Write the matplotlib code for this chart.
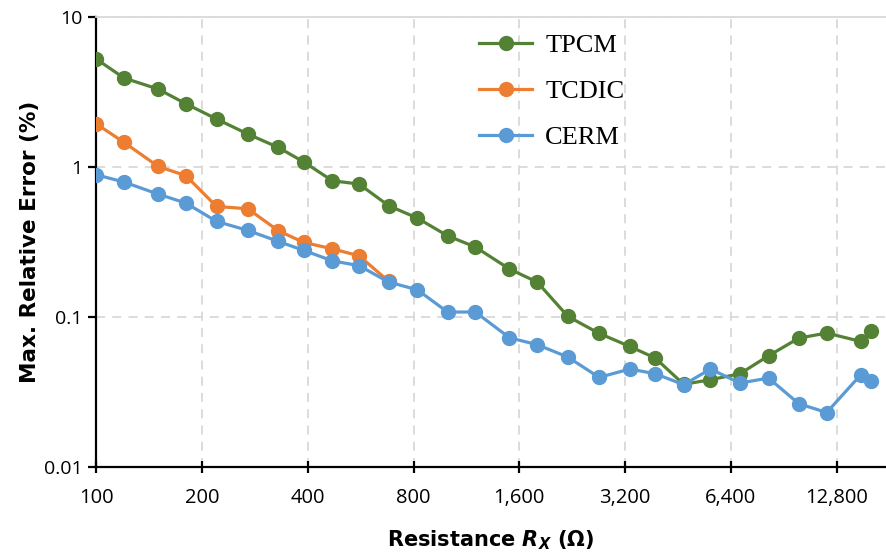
import numpy as np
import matplotlib
matplotlib.use("Agg")
import matplotlib.pyplot as plt
from matplotlib.ticker import FixedLocator, NullLocator, FixedFormatter

# resistances (E12 series) in ohm
resistance = [100, 120, 150, 180, 220, 270, 330, 390, 470, 560, 680, 820,
              1000, 1200, 1500, 1800, 2200, 2700, 3300, 3900, 4700, 5600, 6800, 8200,
              10000, 12000, 15000, 16000]

# max relative error (%)
tpcm = [5.25, 3.92, 3.31, 2.64, 2.09, 1.66, 1.35, 1.08, 0.81, 0.77, 0.552, 0.457,
        0.348, 0.293, 0.209, 0.171, 0.101, 0.0778, 0.0637, 0.0533, 0.0356, 0.0382, 0.0419, 0.0552,
        0.0724, 0.0782, 0.0688, 0.0802]
tcdic = [1.94, 1.46, 1.01, 0.875, 0.546, 0.527, 0.376, 0.314, 0.285, 0.256, 0.173]
cerm = [0.888, 0.794, 0.66, 0.575, 0.434, 0.378, 0.319, 0.278, 0.237, 0.22, 0.171, 0.152,
        0.108, 0.108, 0.0728, 0.0654, 0.0541, 0.0396, 0.045, 0.0419, 0.0354, 0.045, 0.0363, 0.0392,
        0.0264, 0.0231, 0.0412, 0.0372]

x_ticks = [100, 200, 400, 800, 1600, 3200, 6400, 12800]
x_tick_labels = ["100", "200", "400", "800", "1,600", "3,200", "6,400", "12,800"]
y_ticks = [0.01, 0.1, 1, 10]
y_tick_labels = ["0.01", "0.1", "1", "10"]

series = [
    ("TPCM", tpcm, "#548235"),
    ("TCDIC", tcdic, "#ED7D31"),
    ("CERM", cerm, "#5B9BD5"),
]

fig = plt.figure(figsize=(8.86, 5.58), dpi=100)
ax = fig.add_axes([0.1086, 0.163, 0.8914, 0.8065])

for name, vals, col in series:
    ax.plot(resistance[:len(vals)], vals, "-o", color=col, lw=2.3, ms=10,
            label=name, zorder=3)

ax.set_xscale("log", base=2)
ax.set_yscale("log")
ax.set_xlim(100, 17700)
ax.set_ylim(0.01, 10)

ax.xaxis.set_major_locator(FixedLocator(x_ticks))
ax.xaxis.set_major_formatter(FixedFormatter(x_tick_labels))
ax.xaxis.set_minor_locator(NullLocator())
ax.yaxis.set_major_locator(FixedLocator(y_ticks))
ax.yaxis.set_major_formatter(FixedFormatter(y_tick_labels))
ax.yaxis.set_minor_locator(NullLocator())

# dashed light grid like Excel
ax.grid(True, which="major", ls=(0, (5, 4)), color="#d9d9d9", lw=1.3, zorder=0)
ax.set_axisbelow(True)

ax.spines["right"].set_visible(False)
ax.spines["top"].set_color("#d9d9d9")
ax.spines["top"].set_linewidth(1.3)
ax.spines["left"].set_linewidth(1.6)
ax.spines["bottom"].set_linewidth(1.6)

ax.tick_params(axis="x", direction="inout", length=8, width=1.6,
               labelsize=14.5, pad=11)
ax.tick_params(axis="y", direction="out", length=6, width=1.6,
               labelsize=14, pad=4)
for lab in ax.get_xticklabels() + ax.get_yticklabels():
    lab.set_family("Open Sans")

ax.set_xlabel(r"Resistance $\mathbfit{R}_{\mathbfit{X}}$ (Ω)", fontsize=15,
              fontweight="bold", labelpad=15)
ax.set_ylabel("Max. Relative Error (%)", fontsize=15.5, fontweight="bold",
              labelpad=3)

leg = ax.legend(loc="upper left", bbox_to_anchor=(0.455, 1.015), frameon=False,
                prop={"family": "Liberation Serif", "size": 19},
                handlelength=2.0, labelspacing=0.85, handletextpad=0.5)

fig.savefig("out.png", dpi=100)
